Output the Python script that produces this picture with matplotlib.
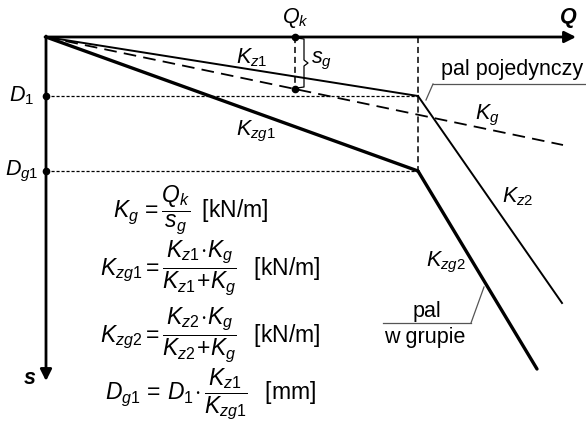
import matplotlib
matplotlib.use("Agg")
import matplotlib.pyplot as plt

plt.rcParams['font.family'] = ['Liberation Sans', 'DejaVu Sans']
plt.rcParams['mathtext.fontset'] = 'custom'
plt.rcParams['mathtext.rm'] = 'Liberation Sans'
plt.rcParams['mathtext.it'] = 'Liberation Sans:italic'
plt.rcParams['mathtext.bf'] = 'Liberation Sans:bold:italic'

# load Q (right) and settlement s (down), diagram units
q_k = 249          # characteristic load
s_g = 52           # settlement of group at Q_k
q_1 = 372          # load at break of curve
d_1 = 59           # settlement single pile at q_1
d_g1 = 134         # settlement pile in group at q_1
kz2_end = (516, 266)
kzg2_end = (491, 332)
kg_end = (517, 108)
q_axis_end = 530
s_axis_end = 344

fig = plt.figure(figsize=(5.86, 4.22), dpi=100)
ax = fig.add_axes([0, 0, 1, 1])
ax.set_xlim(-46, 540)
ax.set_ylim(385, -37)
ax.axis('off')

# axes with arrows
ax.annotate('', xy=(q_axis_end, 0), xytext=(-1, 0),
            arrowprops=dict(arrowstyle='-|>', lw=2.0, color='k', mutation_scale=17, shrinkA=0, shrinkB=0))
ax.annotate('', xy=(0, s_axis_end), xytext=(0, -1),
            arrowprops=dict(arrowstyle='-|>', lw=2.0, color='k', mutation_scale=17, shrinkA=0, shrinkB=0))

# single pile
ax.plot([0, q_1], [0, d_1], color='k', lw=1.4)
ax.plot([q_1, kz2_end[0]], [d_1, kz2_end[1]], color='k', lw=1.4)
# pile in group
ax.plot([0, q_1], [0, d_g1], color='k', lw=2.4, solid_capstyle='round')
ax.plot([q_1, kzg2_end[0]], [d_g1, kzg2_end[1]], color='k', lw=2.4, solid_capstyle='round')
# K_g dashed
ax.plot([0, kg_end[0]], [0, kg_end[1]], color='k', lw=1.3, dashes=(7, 4))

# helper lines
ax.plot([0, q_1], [d_1, d_1], color='k', lw=0.9, dashes=(2.5, 1.5))
ax.plot([0, q_1], [d_g1, d_g1], color='k', lw=0.9, dashes=(2.5, 1.5))
ax.plot([q_1, q_1], [0, d_g1], color='k', lw=1.1, dashes=(4, 2.5))
s_k = s_g * 1.0
ax.plot([q_k, q_k], [0, s_k], color='k', lw=1.1, dashes=(4, 2.5))
ax.plot([q_k, 0, 0, q_k], [0, d_1, d_g1, s_k], 'o', color='k', ms=4.5)

# brace for s_g
ax.plot([q_k + 2, q_k + 9, q_k + 9, q_k + 13, q_k + 9, q_k + 9, q_k + 2],
        [1, 2, s_k / 2 - 3, s_k / 2, s_k / 2 + 3, s_k - 2, s_k - 1], color='k', lw=0.9)

fs = 15.5
ax.text(q_k + 16, s_k / 2 - 2, '$s_g$', fontsize=fs, ha='left', va='center')
ax.text(q_k, -19, '$Q_k$', fontsize=fs, ha='center', va='center')
ax.text(522, -19, r'$\mathbf{Q}$', fontsize=fs, ha='center', va='center')
ax.text(-16, 341, r'$\mathbf{s}$', fontsize=fs, ha='center', va='center')
ax.text(-24, d_1, '$D_1$', fontsize=fs, ha='center', va='center')
ax.text(-24, d_g1, '$D_{g1}$', fontsize=fs, ha='center', va='center')
ax.text(206, 21, '$K_{z1}$', fontsize=fs, ha='center', va='center')
ax.text(210, 94, '$K_{zg1}$', fontsize=fs, ha='center', va='center')
ax.text(441, 78, '$K_g$', fontsize=fs, ha='center', va='center')
ax.text(472, 160, '$K_{z2}$', fontsize=fs, ha='center', va='center')
ax.text(400, 225, '$K_{zg2}$', fontsize=fs, ha='center', va='center')

# leaders
ax.text(466, 33, 'pal pojedynczy', fontsize=fs, ha='center', va='center')
ax.plot([387, 540], [47, 47], color='#555555', lw=0.9)
ax.plot([387, 380], [47, 63], color='#555555', lw=0.9)
ax.text(381, 275, 'pal', fontsize=fs, ha='center', va='center')
ax.text(379, 300, 'w grupie', fontsize=fs, ha='center', va='center')
ax.plot([337, 425], [286, 286], color='#555555', lw=0.9)
ax.plot([425, 438], [286, 250], color='#555555', lw=0.9)

# formulas
ff = 16.5
ax.text(67, 173, r'$K_g\,=\dfrac{Q_k}{s_g}\;\;\mathrm{[kN/m]}$', fontsize=ff, ha='left', va='center')
ax.text(54, 231, r'$K_{zg1}=\dfrac{K_{z1}\!\cdot\! K_g}{K_{z1}\!+\!K_g}\;\;\;\mathrm{[kN/m]}$', fontsize=ff, ha='left', va='center')
ax.text(54, 298, r'$K_{zg2}=\dfrac{K_{z2}\!\cdot\! K_g}{K_{z2}\!+\!K_g}\;\;\;\mathrm{[kN/m]}$', fontsize=ff, ha='left', va='center')
ax.text(59, 357, r'$D_{g1}\,=\,D_1\!\cdot\dfrac{K_{z1}}{K_{zg1}}\;\;\;\mathrm{[mm]}$', fontsize=ff, ha='left', va='center')

fig.savefig('out.png', dpi=100)
